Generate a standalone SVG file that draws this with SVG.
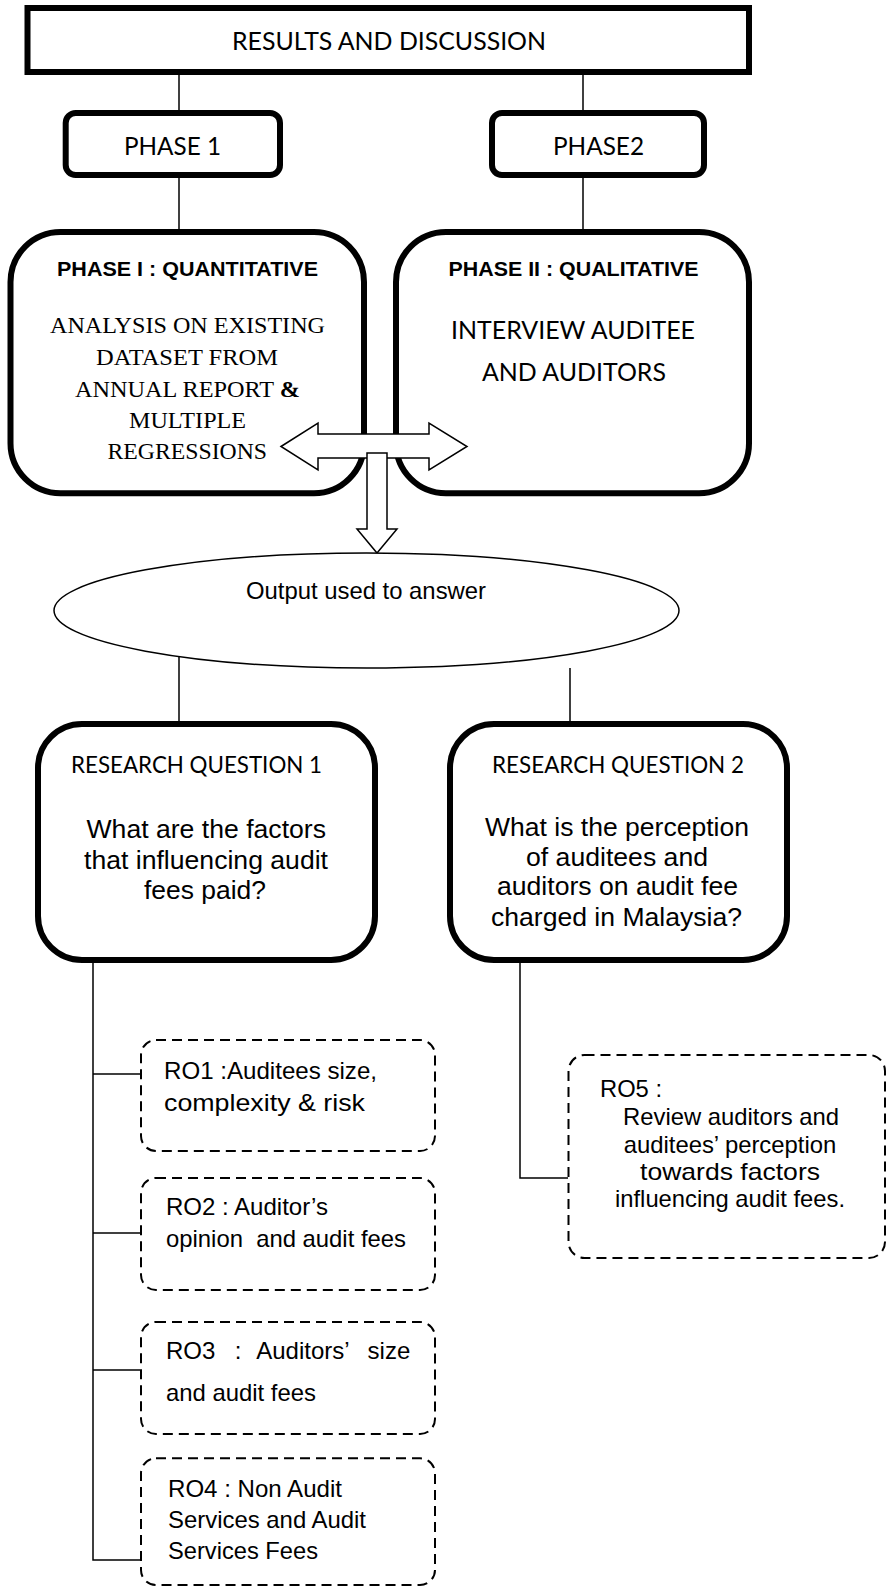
<svg xmlns="http://www.w3.org/2000/svg" width="887" height="1587" viewBox="0 0 887 1587">
<style>
.thick{fill:#fff;stroke:#000;stroke-width:6}
.dash{fill:#fff;stroke:#000;stroke-width:2;stroke-dasharray:10 6}
.conn{fill:none;stroke:#000;stroke-width:1.5}
.arrow{fill:#fff;stroke:#000;stroke-width:1.5;stroke-linejoin:miter}
.ell{fill:#fff;stroke:#000;stroke-width:1.5}
text{fill:#000}
.cal{font-family:Lato,"Open Sans",sans-serif;font-size:25.5px}
.calq{font-family:Lato,"Open Sans",sans-serif;font-size:23.5px}
.arb{font-family:"Liberation Sans",Arial,sans-serif;font-size:21px;font-weight:bold}
.tm{font-family:"Liberation Serif","Times New Roman",serif;font-size:24px}
.ar{font-family:"Liberation Sans",Arial,sans-serif;font-size:24px}
.arq{font-family:"Liberation Sans",Arial,sans-serif;font-size:25.5px}
</style>
<rect width="887" height="1587" fill="#fff"/>
<g id="connectors">
<line class="conn" x1="179" y1="75" x2="179" y2="110"/>
<line class="conn" x1="583" y1="75" x2="583" y2="110"/>
<line class="conn" x1="179" y1="178" x2="179" y2="229"/>
<line class="conn" x1="583" y1="178" x2="583" y2="229"/>
<line class="conn" x1="179" y1="657" x2="179" y2="721"/>
<line class="conn" x1="570" y1="668" x2="570" y2="721"/>
<polyline class="conn" points="93,963 93,1560 140,1560"/>
<line class="conn" x1="93" y1="1074" x2="140" y2="1074"/>
<line class="conn" x1="93" y1="1233" x2="140" y2="1233"/>
<line class="conn" x1="93" y1="1370" x2="140" y2="1370"/>
<polyline class="conn" points="520,963 520,1178 568,1178"/>
</g>
<g id="results">
<rect class="thick" x="27.5" y="8" width="721.5" height="64"/>
<text class="cal" x="232" y="50" textLength="314" lengthAdjust="spacingAndGlyphs">RESULTS AND DISCUSSION</text>
</g>
<g id="phase1">
<rect class="thick" x="65.7" y="113" width="214.3" height="62" rx="10"/>
<text class="cal" x="124" y="155" textLength="97" lengthAdjust="spacingAndGlyphs">PHASE 1</text>
</g>
<g id="phase2">
<rect class="thick" x="492" y="113" width="212" height="62" rx="10"/>
<text class="cal" x="553" y="155" textLength="91" lengthAdjust="spacingAndGlyphs">PHASE2</text>
</g>
<g id="quantitative">
<rect class="thick" x="10.5" y="232" width="353.5" height="261.3" rx="50"/>
<text class="arb" x="57" y="276" textLength="261" lengthAdjust="spacingAndGlyphs">PHASE I : QUANTITATIVE</text>
<text class="tm" x="50" y="333" textLength="275" lengthAdjust="spacingAndGlyphs">ANALYSIS ON EXISTING</text>
<text class="tm" x="96" y="365" textLength="182" lengthAdjust="spacingAndGlyphs">DATASET FROM</text>
<text class="tm" x="75" y="397" textLength="225" lengthAdjust="spacingAndGlyphs">ANNUAL REPORT <tspan font-weight="bold">&amp;</tspan></text>
<text class="tm" x="129" y="428" textLength="117" lengthAdjust="spacingAndGlyphs">MULTIPLE</text>
<text class="tm" x="107.5" y="459" textLength="159.5" lengthAdjust="spacingAndGlyphs">REGRESSIONS</text>
</g>
<g id="qualitative">
<rect class="thick" x="396" y="232" width="353" height="261.3" rx="50"/>
<text class="arb" x="448.5" y="276" textLength="250" lengthAdjust="spacingAndGlyphs">PHASE II : QUALITATIVE</text>
<text class="cal" x="451" y="339" textLength="244" lengthAdjust="spacingAndGlyphs">INTERVIEW AUDITEE</text>
<text class="cal" x="482" y="381" textLength="184" lengthAdjust="spacingAndGlyphs">AND AUDITORS</text>
</g>
<g id="arrows">
<polygon class="arrow" points="281,446.5 318,423 318,434 429,434 429,423 467,446.5 429,470 429,458 318,458 318,470"/>
<polygon class="arrow" points="367,453 387,453 387,529 397,529 377,553 357,529 367,529"/>
</g>
<g id="output">
<ellipse class="ell" cx="366.5" cy="610.5" rx="312.5" ry="57.5"/>
<text class="ar" x="246" y="599" textLength="240" lengthAdjust="spacingAndGlyphs">Output used to answer</text>
</g>
<g id="rq1">
<rect class="thick" x="38" y="724" width="337" height="236" rx="44"/>
<text class="calq" x="71" y="773" textLength="251" lengthAdjust="spacingAndGlyphs">RESEARCH QUESTION 1</text>
<text class="arq" x="86.5" y="838" textLength="239.5" lengthAdjust="spacingAndGlyphs">What are the factors</text>
<text class="arq" x="84" y="869" textLength="244" lengthAdjust="spacingAndGlyphs">that influencing audit</text>
<text class="arq" x="144" y="899" textLength="122" lengthAdjust="spacingAndGlyphs">fees paid?</text>
</g>
<g id="rq2">
<rect class="thick" x="450" y="724" width="337" height="236" rx="44"/>
<text class="calq" x="492" y="773" textLength="252" lengthAdjust="spacingAndGlyphs">RESEARCH QUESTION 2</text>
<text class="arq" x="485" y="836" textLength="264" lengthAdjust="spacingAndGlyphs">What is the perception</text>
<text class="arq" x="526" y="866" textLength="182" lengthAdjust="spacingAndGlyphs">of auditees and</text>
<text class="arq" x="497" y="895" textLength="241" lengthAdjust="spacingAndGlyphs">auditors on audit fee</text>
<text class="arq" x="491" y="926" textLength="251" lengthAdjust="spacingAndGlyphs">charged in Malaysia?</text>
</g>
<g id="ro1">
<rect class="dash" x="141" y="1040" width="294" height="111" rx="15"/>
<text class="ar" x="164" y="1079" font-size="22" textLength="213" lengthAdjust="spacingAndGlyphs">RO1 :Auditees size,</text>
<text class="ar" x="164" y="1111" font-size="26.5" textLength="201" lengthAdjust="spacingAndGlyphs">complexity &amp; risk</text>
</g>
<g id="ro2">
<rect class="dash" x="141" y="1178" width="294" height="112" rx="15"/>
<text class="ar" x="166" y="1215" textLength="162" lengthAdjust="spacingAndGlyphs">RO2 : Auditor’s</text>
<text class="ar" x="166" y="1247" textLength="240" lengthAdjust="spacingAndGlyphs" xml:space="preserve">opinion  and audit fees</text>
</g>
<g id="ro3">
<rect class="dash" x="141" y="1322" width="294" height="112" rx="15"/>
<text class="ar" y="1359"><tspan x="166">RO3</tspan><tspan x="234.7">:</tspan><tspan x="256.2">Auditors’</tspan><tspan x="367.6">size</tspan></text>
<text class="ar" x="166" y="1401" textLength="150" lengthAdjust="spacingAndGlyphs">and audit fees</text>
</g>
<g id="ro4">
<rect class="dash" x="141" y="1458.3" width="294" height="126.7" rx="15"/>
<text class="ar" x="168" y="1497" textLength="174" lengthAdjust="spacingAndGlyphs">RO4 : Non Audit</text>
<text class="ar" x="168" y="1528" textLength="198" lengthAdjust="spacingAndGlyphs">Services and Audit</text>
<text class="ar" x="168" y="1559" textLength="150" lengthAdjust="spacingAndGlyphs">Services Fees</text>
</g>
<g id="ro5">
<rect class="dash" x="568.5" y="1055" width="316.5" height="203" rx="16"/>
<text class="ar" x="600" y="1097" textLength="62" lengthAdjust="spacingAndGlyphs">RO5 :</text>
<text class="ar" x="623" y="1125" textLength="216" lengthAdjust="spacingAndGlyphs">Review auditors and</text>
<text class="ar" x="623.7" y="1153" textLength="212.6" lengthAdjust="spacingAndGlyphs">auditees’ perception</text>
<text class="ar" x="640" y="1180" textLength="180" lengthAdjust="spacingAndGlyphs">towards factors</text>
<text class="ar" x="615" y="1207" textLength="230" lengthAdjust="spacingAndGlyphs">influencing audit fees.</text>
</g>
</svg>
